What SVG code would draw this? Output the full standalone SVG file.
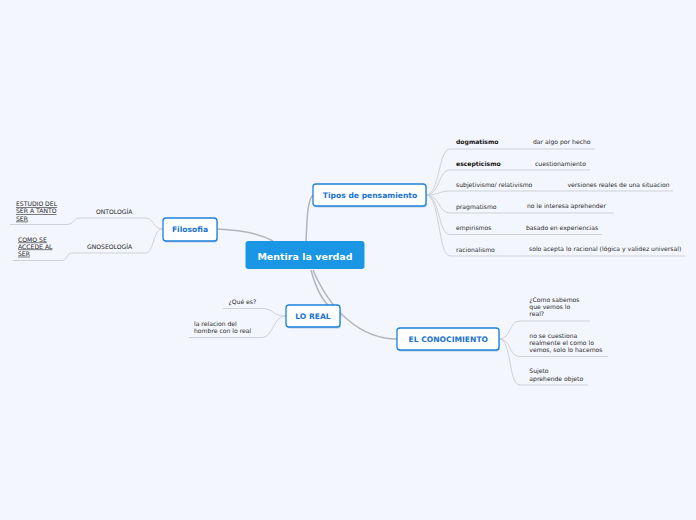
<svg xmlns="http://www.w3.org/2000/svg" width="696" height="520" viewBox="0 0 696 520">
<style>
.bg{fill:#f3f6fd}
.main{fill:none;stroke:#b4b4b8;stroke-width:1.5}
.sub{fill:none;stroke:#cfd1d8;stroke-width:1}
.node{fill:#ffffff;stroke:#1e80db;stroke-width:1.3}
.shadow{fill:#9bb3cf;opacity:0.6}
.ntext{font-family:"DejaVu Sans",Verdana,sans-serif;font-weight:bold;font-size:7.6px;fill:#1a73cf;text-anchor:middle}
.t{font-family:"DejaVu Sans",Verdana,sans-serif;font-size:6.1px;fill:#2a2a2a}
.tb{font-family:"DejaVu Sans",Verdana,sans-serif;font-size:6.1px;fill:#111;font-weight:bold}
.u{text-decoration:underline}
</style>
<rect class="bg" x="0" y="0" width="696" height="520"/>
<g id="connectors">
<path class="main" d="M217,229 C245,230 262,235 273,241"/>
<path class="main" d="M306,241 C307,222 307,201 313,195"/>
<path class="main" d="M311,270 C315,285 321,298 328,305"/>
<path class="main" d="M313,270 C330,310 360,339 397,339"/>
<path class="sub" d="M340,316 L344,316"/>
<path class="sub" d="M163,229 C152,229 155,218 145,218 L80,218 C73,218 74,224.5 67,224.5 L10,224.5"/>
<path class="sub" d="M163,229 C152,229 155,253 145,253 L72,253 C66,253 68,260.5 62,260.5 L13,260.5"/>
<path class="sub" d="M426,195 C440,195 438,149 450,149 L595,149"/>
<path class="sub" d="M426,195 C440,195 438,170 450,170 L590,170"/>
<path class="sub" d="M426,195 C440,195 438,191 450,191 L673,191"/>
<path class="sub" d="M426,195 C440,195 438,213 450,213 L614,213"/>
<path class="sub" d="M426,195 C440,195 438,234.5 450,234.5 L602,234.5"/>
<path class="sub" d="M426,195 C440,195 438,256 450,256 L685,256"/>
<path class="sub" d="M499,339 C512,339 508,321 520,321 L590,321"/>
<path class="sub" d="M499,339 C512,339 508,356.5 520,356.5 L608,356.5"/>
<path class="sub" d="M499,339 C512,339 508,385 520,385 L588,385"/>
<path class="sub" d="M286,316 C272,316 274,308.5 262,308.5 L223,308.5"/>
<path class="sub" d="M286,316 C272,316 274,337.5 262,337.5 L189,337.5"/>
</g>
<g id="center">
<rect x="245.5" y="241" width="119" height="28" rx="3" fill="#1b96e4"/>
<text x="305" y="259.5" font-family="DejaVu Sans,Verdana,sans-serif" font-weight="bold" font-size="9.5px" fill="#ffffff" text-anchor="middle">Mentira la verdad</text>
</g>
<g id="filosofia">
<rect class="shadow" x="164" y="219.5" width="54" height="23" rx="3"/>
<rect class="node" x="163" y="218" width="54" height="23" rx="3"/>
<text class="ntext" x="190" y="232">Filosofia</text>
</g>
<g id="ontologia">
<text class="t" x="96" y="213.5">ONTOLOGÍA</text>
</g>
<g id="estudio">
<text class="t u" x="16" y="206">ESTUDIO DEL </text>
<text class="t u" x="16" y="213.3">SER A TANTO </text>
<text class="t u" x="16" y="220.6">SER</text>
</g>
<g id="gnoseologia">
<text class="t" x="87" y="248.7">GNOSEOLOGÍA</text>
</g>
<g id="como">
<text class="t u" x="18" y="241.5">COMO SE </text>
<text class="t u" x="18" y="248.5">ACCEDE AL </text>
<text class="t u" x="18" y="255.7">SER</text>
</g>
<g id="tipos">
<rect class="shadow" x="314" y="185.5" width="113" height="22" rx="3"/>
<rect class="node" x="313" y="184" width="113" height="22" rx="3"/>
<text class="ntext" x="370" y="198">Tipos de pensamiento</text>
</g>
<g id="dogmatismo"><text class="tb" x="456" y="144">dogmatismo</text></g>
<g id="dogmatismo-def"><text class="t" x="533" y="144.3">dar algo por hecho</text></g>
<g id="escepticismo"><text class="tb" x="456" y="165.5">escepticismo</text></g>
<g id="escepticismo-def"><text class="t" x="535" y="165.5">cuestionamiento</text></g>
<g id="subjetivismo"><text class="t" x="456" y="187">subjetivismo/ relativismo</text></g>
<g id="subjetivismo-def"><text class="t" x="567.5" y="186.7">versiones reales de una situacion</text></g>
<g id="pragmatismo"><text class="t" x="456" y="208.7">pragmatismo</text></g>
<g id="pragmatismo-def"><text class="t" x="527" y="208.2">no le interesa aprehender</text></g>
<g id="empirismos"><text class="t" x="456" y="230">empirismos</text></g>
<g id="empirismos-def"><text class="t" x="526" y="229.6">basado en experiencias</text></g>
<g id="racionalismo"><text class="t" x="456" y="251.5">racionalismo</text></g>
<g id="racionalismo-def"><text class="t" x="529" y="250.6">solo acepta lo racional (lógica y validez universal)</text></g>
<g id="loreal">
<rect class="shadow" x="287" y="306.5" width="54" height="22" rx="3"/>
<rect class="node" x="286" y="305" width="54" height="22" rx="3"/>
<text class="ntext" x="313" y="319">LO REAL</text>
</g>
<g id="quees"><text class="t" x="228.5" y="303.8">¿Qué es?</text></g>
<g id="relacion">
<text class="t" x="194" y="325.5">la relacion del</text>
<text class="t" x="194" y="332.8">hombre con lo real</text>
</g>
<g id="conocimiento">
<rect class="shadow" x="398" y="329.5" width="102" height="22" rx="3"/>
<rect class="node" x="397" y="328" width="102" height="22" rx="3"/>
<text class="ntext" x="448.3" y="342" font-size="7.3px">EL CONOCIMIENTO</text>
</g>
<g id="comosabemos">
<text class="t" x="529.3" y="302.2">¿Como sabemos</text>
<text class="t" x="529.3" y="309.3">que vemos lo</text>
<text class="t" x="529.3" y="316.4">real?</text>
</g>
<g id="nosecuestiona">
<text class="t" x="529.3" y="337.9">no se cuestiona</text>
<text class="t" x="529.3" y="345">realmente el como lo</text>
<text class="t" x="529.3" y="352.1">vemos, solo lo hacemos</text>
</g>
<g id="sujeto">
<text class="t" x="529.3" y="373.3">Sujeto</text>
<text class="t" x="529.3" y="380.8">aprehende objeto</text>
</g>
</svg>
